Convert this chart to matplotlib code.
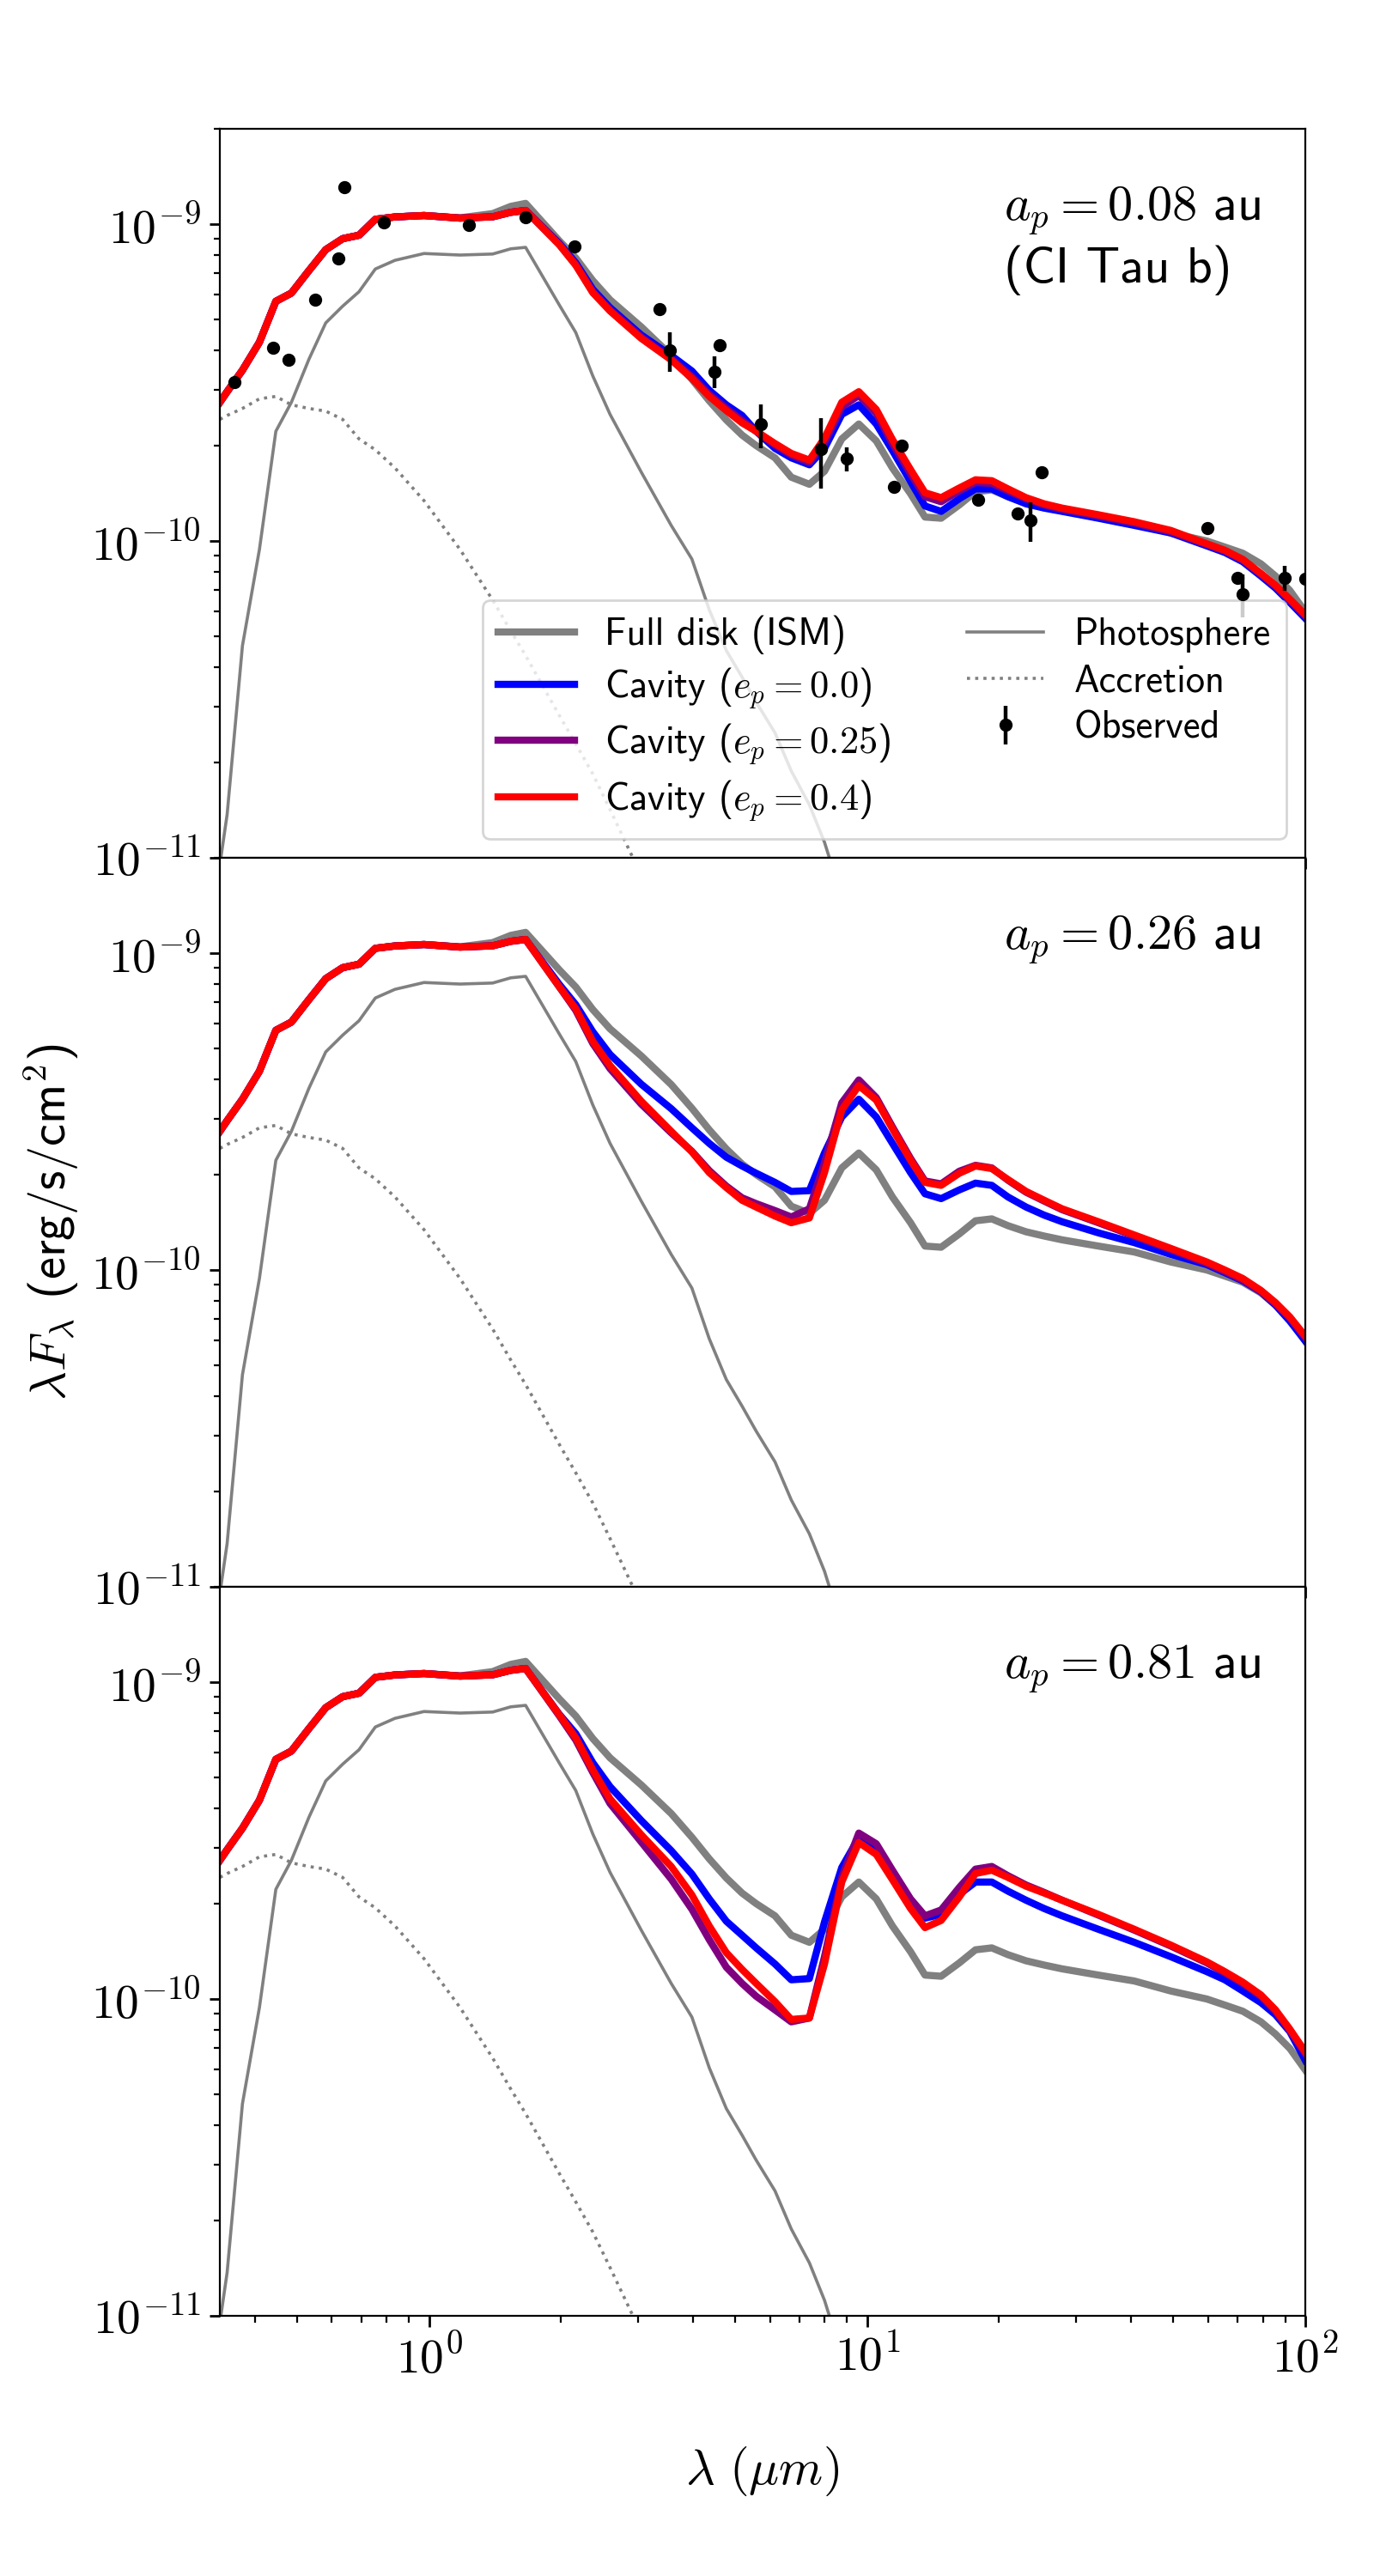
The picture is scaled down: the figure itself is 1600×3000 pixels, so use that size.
import math
import matplotlib
matplotlib.use("Agg")
import matplotlib.pyplot as plt
from matplotlib.ticker import FuncFormatter, NullFormatter

plt.rcParams['font.family'] = ['cmss10', 'DejaVu Sans']
plt.rcParams['mathtext.fontset'] = 'cm'
plt.rcParams['axes.unicode_minus'] = False

# wavelength grid of the models (micron)
wave = [0.333, 0.346, 0.375, 0.410, 0.447, 0.485, 0.532, 0.581, 0.635, 0.692,
        0.754, 0.836, 0.974, 1.177, 1.397, 1.536, 1.661, 1.984, 2.162, 2.364,
        2.589, 3.05, 3.57, 3.98, 4.36, 4.77, 5.18, 5.58, 6.16, 6.71,
        7.38, 7.99, 8.75, 9.57, 10.49, 11.42, 12.56, 13.55, 14.75, 16.23,
        17.67, 19.25, 20.96, 23.05, 25.35, 27.86, 33.7, 40.7, 49.3, 59.6,
        65.5, 72.0, 79.2, 85.5, 92.2, 100.0]

# fluxes in units of 1e-10 erg/s/cm2
full_disk = [2.74, 2.96, 3.46, 4.24, 5.71, 6.06, 7.14, 8.31, 9.00, 9.23,
             10.36, 10.54, 10.65, 10.47, 10.80, 11.38, 11.63, 8.85, 7.82, 6.64,
             5.77, 4.74, 3.85, 3.24, 2.77, 2.41, 2.16, 2.00, 1.83, 1.59,
             1.51, 1.66, 2.10, 2.34, 2.07, 1.70, 1.41, 1.19, 1.18, 1.30,
             1.43, 1.45, 1.38, 1.32, 1.28, 1.245, 1.19, 1.14, 1.06, 1.00,
             0.957, 0.915, 0.847, 0.775, 0.698, 0.597]
photosphere = [0.095, 0.137, 0.467, 0.94, 2.22, 2.74, 3.75, 4.88, 5.51, 6.12,
               7.22, 7.69, 8.08, 7.99, 8.05, 8.36, 8.45, 5.55, 4.55, 3.32,
               2.51, 1.65, 1.12, 0.877, 0.607, 0.451, 0.372, 0.31, 0.248, 0.188,
               0.147, 0.112, 0.075]
accretion = [2.42, 2.49, 2.62, 2.81, 2.86, 2.69, 2.62, 2.57, 2.42, 2.10,
             1.94, 1.70, 1.34, 0.94, 0.651, 0.52, 0.435, 0.281, 0.229, 0.184,
             0.142, 0.088]

# cavity models share the optical/near-IR part (first 17 points)
cavity_start = [2.74, 2.96, 3.46, 4.24, 5.71, 6.06, 7.14, 8.31, 9.00, 9.23,
                10.36, 10.54, 10.65, 10.45, 10.55, 10.90, 11.05]

# a_p = 0.08 au
cav_008_e00 = [8.69, 7.55, 6.23, 5.45, 4.47, 3.85, 3.44, 2.99, 2.69, 2.49,
               2.22, 1.96, 1.83, 1.74, 1.96, 2.51, 2.69, 2.34, 1.93, 1.54,
               1.29, 1.24, 1.36, 1.46, 1.46, 1.38, 1.31, 1.27, 1.24, 1.18,
               1.12, 1.06, 0.965, 0.92, 0.86, 0.775, 0.71, 0.64, 0.57]
cav_008_e025 = [8.62, 7.45, 6.12, 5.36, 4.40, 3.76, 3.30, 2.90, 2.62, 2.40,
                2.22, 2.01, 1.87, 1.77, 2.05, 2.65, 2.88, 2.53, 2.03, 1.63,
                1.38, 1.33, 1.44, 1.53, 1.52, 1.44, 1.36, 1.30, 1.26, 1.20,
                1.14, 1.07, 0.975, 0.93, 0.87, 0.785, 0.72, 0.65, 0.58]
cav_008_e04 = [8.60, 7.42, 6.08, 5.32, 4.36, 3.73, 3.26, 2.86, 2.58, 2.36,
               2.22, 2.03, 1.89, 1.80, 2.11, 2.74, 2.96, 2.60, 2.09, 1.68,
               1.42, 1.37, 1.47, 1.56, 1.55, 1.46, 1.37, 1.31, 1.27, 1.21,
               1.15, 1.08, 0.98, 0.935, 0.875, 0.79, 0.725, 0.655, 0.585]

# a_p = 0.26 au
cav_026_e00 = [7.96, 6.88, 5.65, 4.79, 3.86, 3.23, 2.81, 2.51, 2.27, 2.13,
               2.02, 1.89, 1.77, 1.78, 2.34, 3.04, 3.46, 3.04, 2.51, 2.03,
               1.74, 1.68, 1.79, 1.88, 1.85, 1.70, 1.58, 1.49, 1.42, 1.31,
               1.22, 1.12, 1.04, 0.981, 0.924, 0.853, 0.775, 0.690, 0.597]
cav_026_e025 = [7.82, 6.60, 5.19, 4.32, 3.34, 2.71, 2.37, 2.06, 1.84, 1.69,
                1.62, 1.54, 1.47, 1.56, 2.18, 3.37, 3.98, 3.50, 2.83, 2.25,
                1.91, 1.87, 2.05, 2.14, 2.10, 1.92, 1.76, 1.65, 1.55, 1.41,
                1.28, 1.16, 1.05, 0.99, 0.93, 0.855, 0.782, 0.705, 0.612]
cav_026_e04 = [7.82, 6.68, 5.27, 4.42, 3.41, 2.74, 2.36, 2.03, 1.82, 1.66,
               1.58, 1.48, 1.41, 1.46, 2.03, 3.20, 3.82, 3.44, 2.79, 2.22,
               1.89, 1.85, 2.02, 2.13, 2.09, 1.93, 1.77, 1.66, 1.56, 1.42,
               1.29, 1.17, 1.06, 1.00, 0.94, 0.862, 0.789, 0.711, 0.618]

# a_p = 0.81 au
cav_081_e00 = [7.91, 6.88, 5.57, 4.68, 3.66, 2.94, 2.48, 2.07, 1.76, 1.59,
               1.45, 1.29, 1.15, 1.16, 1.75, 2.60, 3.23, 2.94, 2.42, 2.03,
               1.80, 1.85, 2.14, 2.34, 2.34, 2.19, 2.05, 1.93, 1.83, 1.66,
               1.51, 1.36, 1.22, 1.15, 1.06, 0.974, 0.892, 0.789, 0.640]
cav_081_e025 = [7.82, 6.57, 5.19, 4.14, 3.13, 2.39, 1.92, 1.54, 1.26, 1.12,
                1.02, 0.924, 0.847, 0.871, 1.36, 2.42, 3.34, 3.09, 2.55, 2.07,
                1.83, 1.91, 2.25, 2.57, 2.62, 2.45, 2.29, 2.17, 2.05, 1.84,
                1.65, 1.47, 1.30, 1.21, 1.12, 1.02, 0.915, 0.795, 0.672]
cav_081_e04 = [7.88, 6.68, 5.29, 4.28, 3.30, 2.62, 2.13, 1.70, 1.40, 1.24,
               1.12, 0.981, 0.862, 0.871, 1.29, 2.34, 3.12, 2.86, 2.38, 1.93,
               1.68, 1.77, 2.10, 2.49, 2.55, 2.42, 2.27, 2.16, 2.05, 1.85,
               1.66, 1.48, 1.31, 1.22, 1.13, 1.03, 0.924, 0.803, 0.681]

# observed photometry of CI Tau
obs_wave = [0.359, 0.440, 0.478, 0.550, 0.621, 0.641, 0.789, 1.232, 1.661, 2.15,
            3.35, 3.54, 4.49, 4.60, 5.71, 7.86, 8.97, 11.53, 11.98, 17.94,
            22.0, 23.6, 24.97, 59.9, 70.0, 71.9, 89.9, 100.0]
obs_flux = [3.17, 4.07, 3.73, 5.77, 7.81, 13.1, 10.1, 9.92, 10.5, 8.53,
            5.39, 3.99, 3.43, 4.16, 2.33, 1.95, 1.82, 1.48, 2.00, 1.35,
            1.22, 1.16, 1.65, 1.10, 0.766, 0.68, 0.766, 0.76]
obs_err = [0, 0, 0, 0, 0, 0, 0, 0, 0, 0,
           0, 0.56, 0.39, 0, 0.37, 0.49, 0.16, 0, 0, 0,
           0, 0.165, 0, 0, 0, 0.105, 0.07, 0]

planet_labels = ['$a_p = 0.08$ au\n(CI Tau b)', '$a_p = 0.26$ au', '$a_p = 0.81$ au']
label_y = [0.789, 0.874, 0.874]
ecc_labels = ['Cavity ($e_p = 0.0$)', 'Cavity ($e_p = 0.25$)', 'Cavity ($e_p = 0.4$)']
ecc_colors = ['blue', 'purple', 'red']
cavities = [[cav_008_e00, cav_008_e025, cav_008_e04],
            [cav_026_e00, cav_026_e025, cav_026_e04],
            [cav_081_e00, cav_081_e025, cav_081_e04]]

unit = 1e-10


def scale(values):
    return [v * unit for v in values]


def power_of_ten(value, pos):
    return r'$10^{%d}$' % round(math.log10(value))


fig, axes = plt.subplots(3, 1, sharex=True, figsize=(8, 15), dpi=200)
fig.subplots_adjust(left=0.16, right=0.95, top=0.95, bottom=0.101, hspace=0)

for i, ax in enumerate(axes):
    ax.plot(wave, scale(full_disk), color='gray', lw=3, label='Full disk (ISM)')
    for tail, lab, col in zip(cavities[i], ecc_labels, ecc_colors):
        ax.plot(wave, scale(cavity_start + tail), color=col, lw=3, label=lab)
    ax.plot(wave[:len(photosphere)], scale(photosphere), color='gray', lw=1.3,
            label='Photosphere')
    ax.plot(wave[:len(accretion)], scale(accretion), color='gray', lw=1.3, ls=':',
            label='Accretion')
    if i == 0:
        ax.errorbar(obs_wave, scale(obs_flux), yerr=scale(obs_err), fmt='o',
                    color='black', ms=4.5, elinewidth=1.6, capsize=0,
                    label='Observed', zorder=5)
        ax.legend(loc='lower right', ncol=2, fontsize=16, labelspacing=0.3)

    ax.set_xscale('log')
    ax.set_yscale('log')
    ax.set_xlim(0.333, 100)
    ax.set_ylim(1e-11, 2e-9)
    ax.yaxis.set_major_formatter(FuncFormatter(power_of_ten))
    ax.yaxis.set_minor_formatter(NullFormatter())
    ax.xaxis.set_major_formatter(FuncFormatter(power_of_ten))
    ax.xaxis.set_minor_formatter(NullFormatter())
    ax.tick_params(which='major', labelsize=20, length=4.5, width=1.0)
    ax.tick_params(which='minor', length=2.7, width=0.8)
    ax.text(0.722, label_y[i], planet_labels[i], transform=ax.transAxes,
            fontsize=21, ha='left', va='baseline')

axes[1].set_ylabel(r'$\lambda F_\lambda$ (erg/s/cm$^2$)', fontsize=21)
axes[1].yaxis.set_label_coords(-0.128, 0.5)
axes[2].set_xlabel(r'$\lambda\ (\mu m)$', fontsize=21, labelpad=26)

fig.savefig('out.png', dpi=200)
